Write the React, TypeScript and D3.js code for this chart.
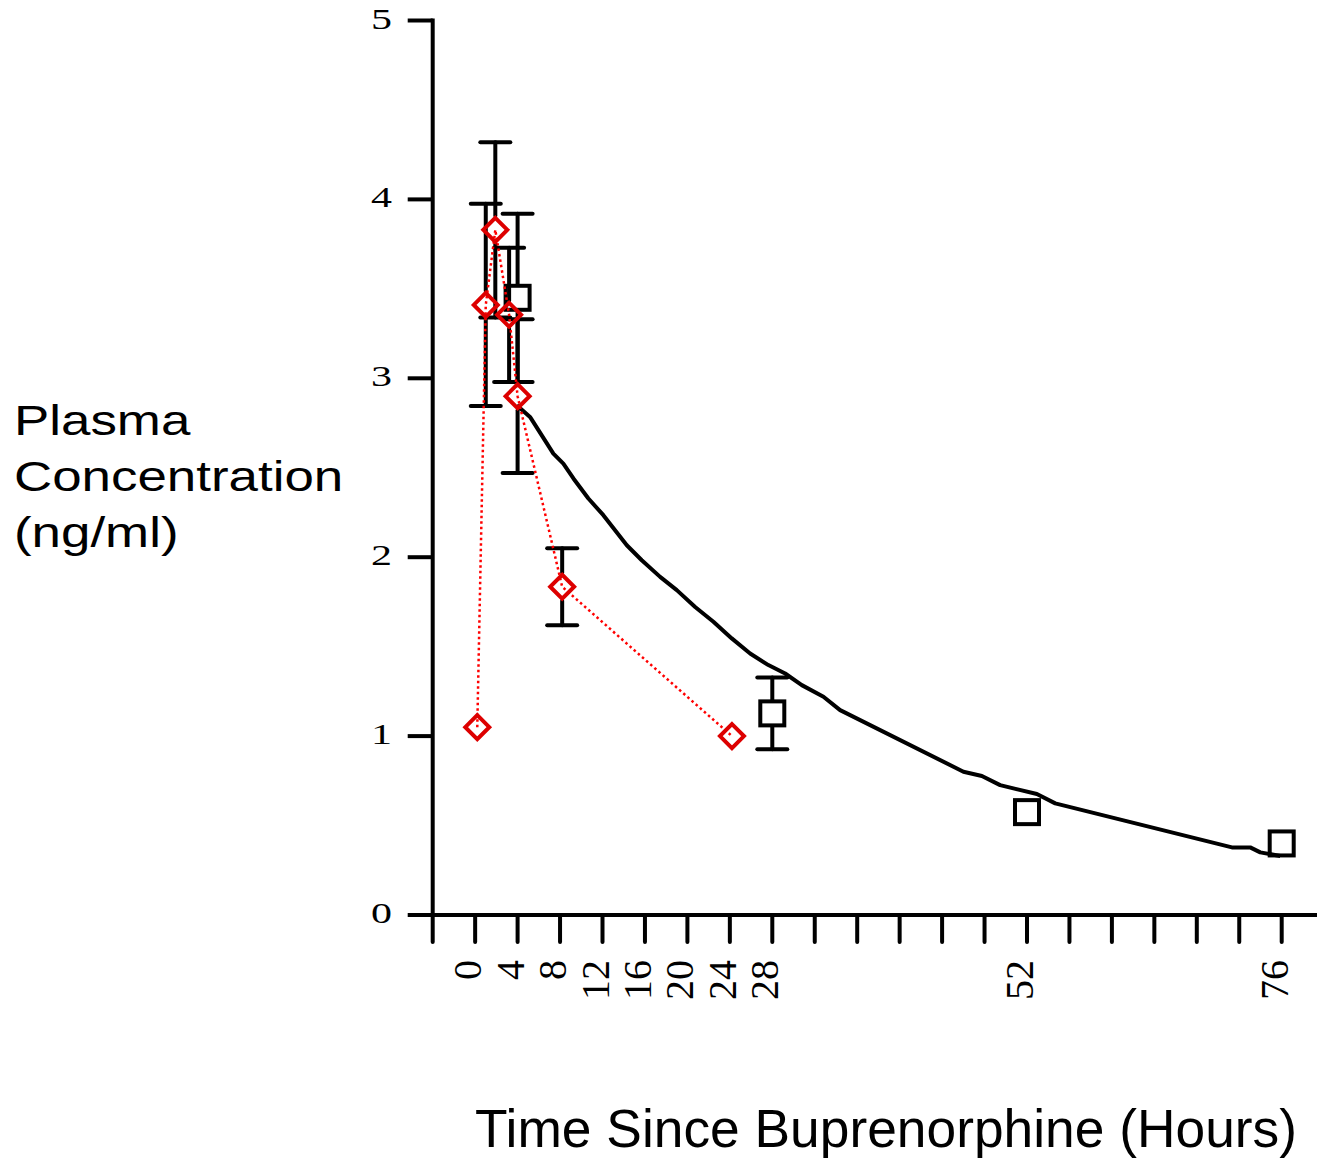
import React from "react";
import * as d3 from "d3";

// ---- data ----
// black squares (observed) with SE
const sqTime = [4, 28, 52, 76];
const sqConc = [3.45, 1.127, 0.575, 0.4];
const sqErr = [0.47, 0.2, 0, 0];

// red diamonds (second group) with SE
const dmTime = [0.2, 1.0, 1.9, 3.2, 4.0, 8.2, 24.2];
const dmConc = [1.05, 3.41, 3.83, 3.355, 2.9, 1.835, 1.0];
const dmErr = [0, 0.565, 0.49, 0.375, 0.43, 0.215, 0];

// black model curve
const fitTime = [3.92, 5.17, 7.37, 8.31, 9.26, 10.67, 12.08, 14.29, 15.7, 17.43, 19.0, 20.73, 22.45, 24.18, 25.91, 27.63, 29.21, 30.78, 32.82, 34.39, 46.01, 47.75, 49.47, 52.93, 54.66, 71.31, 73.03, 73.98, 75.86];
const fitConc = [2.85, 2.784, 2.579, 2.523, 2.44, 2.328, 2.235, 2.067, 1.983, 1.89, 1.816, 1.722, 1.639, 1.546, 1.462, 1.397, 1.35, 1.285, 1.22, 1.145, 0.801, 0.777, 0.726, 0.676, 0.624, 0.378, 0.378, 0.35, 0.33];

const xTickValues = d3.range(-4, 77, 4);
const xTickLabels = [0, 4, 8, 12, 16, 20, 24, 28, 52, 76];
const yTickValues = [0, 1, 2, 3, 4, 5];

const yTitleLines = ["Plasma", "Concentration", "(ng/ml)"];
const xTitle = "Time Since Buprenorphine (Hours)";

export default function App() {
  const W = 1317;
  const H = 1158;
  const x = d3.scaleLinear().domain([-4, 76]).range([432.7, 1281.7]);
  const y = d3.scaleLinear().domain([0, 5]).range([915, 20.5]);

  const serif = "'Liberation Serif', 'Times New Roman', serif";
  const sans = "'Liberation Sans', Arial, sans-serif";

  const fitPts = fitTime.map((t, i) => [t, fitConc[i]] as [number, number]);
  const dmPts = dmTime.map((t, i) => [t, dmConc[i]] as [number, number]);
  const line = d3
    .line<[number, number]>()
    .x((d) => x(d[0]))
    .y((d) => y(d[1]));

  const sqHalf = 12;
  const dmHalf = 12;
  const gap = 14;
  const cap = 15;

  const errBar = (t: number, v: number, e: number, key: string) => {
    if (!e) return null;
    const cx = x(t);
    const yTop = y(v + e);
    const yBot = y(v - e);
    const yc = y(v);
    return (
      <g key={key} stroke="#000" strokeWidth={4} strokeLinecap="round">
        <line x1={cx} x2={cx} y1={yc - gap} y2={yTop} />
        <line x1={cx - cap} x2={cx + cap} y1={yTop} y2={yTop} />
        <line x1={cx} x2={cx} y1={yc + gap} y2={yBot} />
        <line x1={cx - cap} x2={cx + cap} y1={yBot} y2={yBot} />
      </g>
    );
  };

  return (
    <svg
      width={W}
      height={H}
      style={{ position: "absolute", left: 0, top: 0, background: "#fff" }}
    >
      <rect x={0} y={0} width={W} height={H} fill="#fff" />

      {/* axes */}
      <line x1={x(-4)} x2={x(-4)} y1={y(5) - 2} y2={y(0)} stroke="#000" strokeWidth={4} />
      <line x1={x(-4)} x2={W} y1={y(0)} y2={y(0)} stroke="#000" strokeWidth={4} />
      {yTickValues.map((v) => (
        <line key={"yt" + v} x1={x(-4) - 25} x2={x(-4)} y1={y(v)} y2={y(v)} stroke="#000" strokeWidth={4} />
      ))}
      {xTickValues.map((t) => (
        <line key={"xt" + t} x1={x(t)} x2={x(t)} y1={y(0)} y2={y(0) + 27} stroke="#000" strokeWidth={4} strokeLinecap="round" />
      ))}

      {/* y tick labels */}
      {yTickValues.map((v) => (
        <text
          key={"yl" + v}
          transform={`translate(392,${y(v) + 8}) scale(1.4,1)`}
          textAnchor="end"
          fontFamily={serif}
          fontSize={30}
          fill="#000"
        >
          {v}
        </text>
      ))}

      {/* x tick labels */}
      {xTickLabels.map((t) => (
        <text
          key={"xl" + t}
          transform={`translate(${x(t) + 6},960) rotate(-90)`}
          textAnchor="end"
          fontFamily={serif}
          fontSize={40}
          fill="#000"
        >
          {t}
        </text>
      ))}

      {/* titles */}
      {yTitleLines.map((s, i) => (
        <text
          key={"yt" + s}
          transform={`translate(14,${435 + i * 56}) scale(1.23,1)`}
          fontFamily={sans}
          fontSize={43}
          fill="#000"
        >
          {s}
        </text>
      ))}
      <text
        x={475}
        y={1147}
        fontFamily={sans}
        fontSize={53}
        fill="#000"
        textLength={822}
        lengthAdjust="spacingAndGlyphs"
      >
        {xTitle}
      </text>

      {/* model curve */}
      <path d={line(fitPts) || ""} fill="none" stroke="#000" strokeWidth={4} strokeLinejoin="round" />

      {/* error bars */}
      {sqTime.map((t, i) => errBar(t, sqConc[i], sqErr[i], "se" + i))}
      {dmTime.map((t, i) => errBar(t, dmConc[i], dmErr[i], "de" + i))}

      {/* squares */}
      {sqTime.map((t, i) => (
        <rect
          key={"sq" + i}
          x={x(t) - sqHalf}
          y={y(sqConc[i]) - sqHalf}
          width={sqHalf * 2}
          height={sqHalf * 2}
          fill="none"
          stroke="#000"
          strokeWidth={4}
        />
      ))}

      {/* red dotted line */}
      <path
        d={line(dmPts) || ""}
        fill="none"
        stroke="#ff0000"
        strokeWidth={2.5}
        strokeDasharray="2.5,3"
      />

      {/* diamonds */}
      {dmTime.map((t, i) => {
        const cx = x(t);
        const cy = y(dmConc[i]);
        const h = dmHalf;
        return (
          <path
            key={"dm" + i}
            d={`M${cx},${cy - h}L${cx + h},${cy}L${cx},${cy + h}L${cx - h},${cy}Z`}
            fill="none"
            stroke="#dd0000"
            strokeWidth={4}
          />
        );
      })}
    </svg>
  );
}
